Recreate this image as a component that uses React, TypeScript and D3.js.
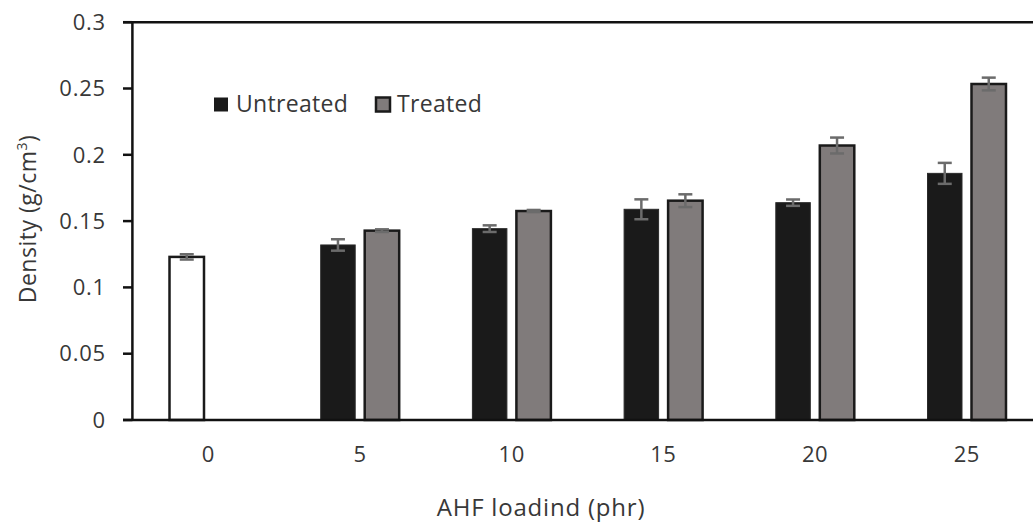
import React from "react";
import * as d3 from "d3";

const categories = ["0", "5", "10", "15", "20", "25"];
const controlValue = 0.123;
const controlErr = 0.002;
const untreated = [null, 0.132, 0.1443, 0.1589, 0.1639, 0.186];
const untreatedErr = [null, 0.0043, 0.0025, 0.0075, 0.0024, 0.0079];
const treated = [null, 0.1428, 0.1576, 0.1654, 0.207, 0.2534];
const treatedErr = [null, 0.001, 0.0008, 0.0048, 0.006, 0.0048];
const yTicks = [0, 0.05, 0.1, 0.15, 0.2, 0.25, 0.3];
const yTickLabels = ["0", "0.05", "0.1", "0.15", "0.2", "0.25", "0.3"];
const seriesNames = ["Untreated", "Treated"];

const W = 1033;
const H = 522;
const left = 132.4;
const right = 1042.6;
const top = 22.2;
const bottom = 420;
const FONT = "'Open Sans', sans-serif";
const TXT = "#383838";

export default function App() {
  const x0 = d3.scaleBand<string>().domain(categories).range([left, right]).paddingInner(0).paddingOuter(0);
  const x1 = d3
    .scaleBand<string>()
    .domain(seriesNames)
    .range([0, x0.bandwidth()])
    .paddingInner(0.216)
    .paddingOuter(0.832);
  const y = d3.scaleLinear().domain([0, 0.3]).range([bottom, top]);
  const bw = x1.bandwidth();
  const capW = 14;

  const bars: any[] = [];
  const errs: any[] = [];
  categories.forEach((c, i) => {
    const gx = x0(c)!;
    if (i === 0) {
      const bx = gx + x1("Untreated")! + 0.5;
      bars.push(
        <rect key="ctrl" x={bx} y={y(controlValue)} width={bw} height={bottom - y(controlValue)} fill="#ffffff" stroke="#1a1a1a" strokeWidth={2.5} />
      );
      errs.push({ cx: bx + bw / 2, v: controlValue, e: controlErr, k: "ce" });
    } else {
      const u = untreated[i] as number;
      const t = treated[i] as number;
      const ux = gx + x1("Untreated")!;
      const tx = gx + x1("Treated")!;
      bars.push(
        <rect key={"u" + i} x={ux} y={y(u)} width={bw} height={bottom - y(u)} fill="#1a1a1a" stroke="#2a2a2a" strokeWidth={1} />
      );
      bars.push(
        <rect key={"t" + i} x={tx} y={y(t)} width={bw} height={bottom - y(t)} fill="#807b7b" stroke="#1a1a1a" strokeWidth={2.5} />
      );
      errs.push({ cx: ux + bw / 2, v: u, e: untreatedErr[i] as number, k: "ue" + i });
      errs.push({ cx: tx + bw / 2, v: t, e: treatedErr[i] as number, k: "te" + i });
    }
  });

  return (
    <div style={{ position: "fixed", left: 0, top: 0, width: W, height: H, overflow: "hidden", background: "#fff" }}>
      <svg width={W} height={H} style={{ display: "block" }}>
        <rect x={0} y={0} width={W} height={H} fill="#ffffff" />
        <line x1={123} x2={right} y1={y(0.3)} y2={y(0.3)} stroke="#111" strokeWidth={2.5} />
        <line x1={right} x2={right} y1={y(0.3)} y2={bottom} stroke="#111" strokeWidth={2.5} />
        {bars}
        {errs.map((d) => (
          <g key={d.k} stroke="#6b6b6b" strokeWidth={2.5}>
            <line x1={d.cx} x2={d.cx} y1={y(d.v + d.e)} y2={y(d.v - d.e)} />
            <line x1={d.cx - capW / 2} x2={d.cx + capW / 2} y1={y(d.v + d.e)} y2={y(d.v + d.e)} />
            <line x1={d.cx - capW / 2} x2={d.cx + capW / 2} y1={y(d.v - d.e)} y2={y(d.v - d.e)} />
          </g>
        ))}
        <line x1={left} x2={left} y1={y(0.3)} y2={bottom} stroke="#111" strokeWidth={2.5} />
        <line x1={123} x2={right} y1={bottom} y2={bottom} stroke="#111" strokeWidth={2.5} />
        {yTicks.map((t, i) => (
          <g key={"yt" + i}>
            <line x1={123} x2={left} y1={y(t)} y2={y(t)} stroke="#111" strokeWidth={2.5} />
            <text x={106} y={y(t)} dy="0.35em" textAnchor="end" fontFamily={FONT} fontSize={22} letterSpacing={0.8} fill={TXT}>
              {yTickLabels[i]}
            </text>
          </g>
        ))}
        {categories.map((c) => (
          <text key={"xt" + c} x={x0(c)! + x0.bandwidth() / 2} y={462} textAnchor="middle" fontFamily={FONT} fontSize={22} letterSpacing={0.5} fill={TXT}>
            {c}
          </text>
        ))}
        <text x={541} y={516} textAnchor="middle" fontFamily={FONT} fontSize={24} letterSpacing={0.8} fill={TXT}>
          AHF loadind (phr)
        </text>
        <text transform="translate(36,219) rotate(-90)" textAnchor="middle" fontFamily={FONT} fontSize={23} letterSpacing={0.5} fill={TXT}>
          Density (g/cm<tspan fontSize={14} dy={-9}>3</tspan>
          <tspan dy={9}>)</tspan>
        </text>
        <rect x={214} y={97.5} width={14} height={14} fill="#1a1a1a" />
        <text x={236} y={112} fontFamily={FONT} fontSize={23} letterSpacing={0.3} fill={TXT}>
          Untreated
        </text>
        <rect x={376} y={97.5} width={14} height={14} fill="#807b7b" stroke="#1a1a1a" strokeWidth={2.5} />
        <text x={397} y={112} fontFamily={FONT} fontSize={23} letterSpacing={0.3} fill={TXT}>
          Treated
        </text>
      </svg>
    </div>
  );
}
